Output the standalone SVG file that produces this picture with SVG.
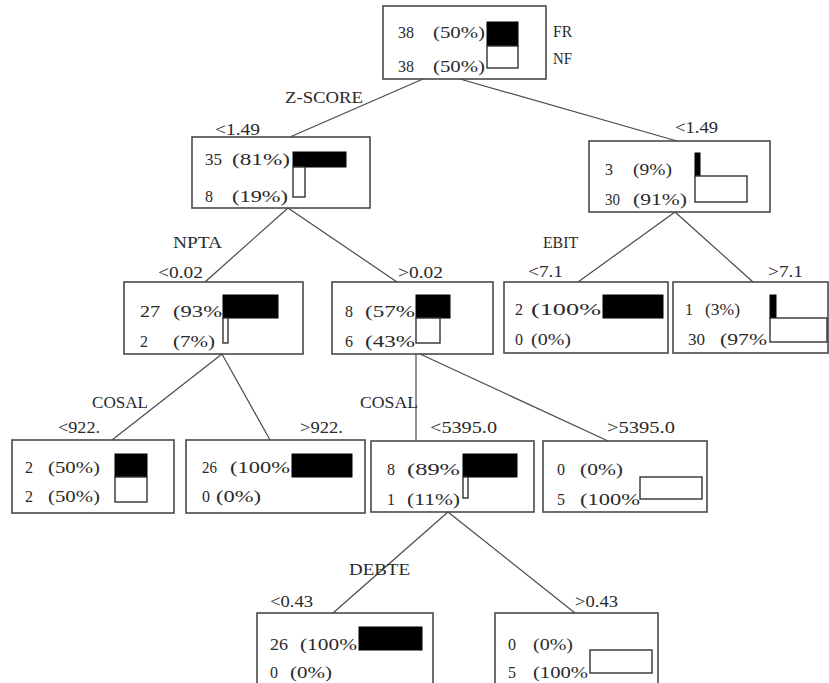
<svg xmlns="http://www.w3.org/2000/svg" width="829" height="683" viewBox="0 0 829 683">
<style>
text{font-family:"Liberation Serif","Times New Roman",serif;font-size:16px;fill:#2a2a2a;}
.box{fill:none;stroke:#4a4a4a;stroke-width:1.6;}
.blk{fill:#000;stroke:#000;stroke-width:1;}
.wht{fill:#fff;stroke:#333;stroke-width:1.4;}
.con line{stroke:#4a4a4a;stroke-width:1.2;}
</style>
<rect x="0" y="0" width="829" height="683" fill="#fff"/>
<g class="con" id="connectors">
<line x1="423" y1="79" x2="290" y2="137"/>
<line x1="460" y1="79" x2="677" y2="141"/>
<line x1="288" y1="208" x2="205" y2="282"/>
<line x1="288" y1="208" x2="397" y2="282"/>
<line x1="675" y1="212" x2="578" y2="282"/>
<line x1="675" y1="212" x2="753" y2="282"/>
<line x1="222" y1="354" x2="112" y2="440"/>
<line x1="222" y1="354" x2="270" y2="440"/>
<line x1="416" y1="354" x2="416" y2="441"/>
<line x1="420" y1="354" x2="608" y2="441"/>
<line x1="448" y1="512" x2="333" y2="613"/>
<line x1="448" y1="512" x2="575" y2="613"/>
</g>
<g id="labels">
<text x="285" y="103" textLength="78" lengthAdjust="spacingAndGlyphs">Z-SCORE</text>
<text x="215" y="135" textLength="45" lengthAdjust="spacingAndGlyphs">&lt;1.49</text>
<text x="675" y="133" textLength="43" lengthAdjust="spacingAndGlyphs">&lt;1.49</text>
<text x="173" y="248" textLength="49" lengthAdjust="spacingAndGlyphs">NPTA</text>
<text x="158" y="278" textLength="45" lengthAdjust="spacingAndGlyphs">&lt;0.02</text>
<text x="398" y="278" textLength="45" lengthAdjust="spacingAndGlyphs">&gt;0.02</text>
<text x="543" y="248" textLength="35" lengthAdjust="spacingAndGlyphs">EBIT</text>
<text x="528" y="277" textLength="35" lengthAdjust="spacingAndGlyphs">&lt;7.1</text>
<text x="768" y="277" textLength="35" lengthAdjust="spacingAndGlyphs">&gt;7.1</text>
<text x="92" y="408" textLength="56" lengthAdjust="spacingAndGlyphs">COSAL</text>
<text x="58" y="433" textLength="42" lengthAdjust="spacingAndGlyphs">&lt;922.</text>
<text x="300" y="433" textLength="43" lengthAdjust="spacingAndGlyphs">&gt;922.</text>
<text x="360" y="408" textLength="58" lengthAdjust="spacingAndGlyphs">COSAL</text>
<text x="430" y="433" textLength="67" lengthAdjust="spacingAndGlyphs">&lt;5395.0</text>
<text x="607" y="433" textLength="68" lengthAdjust="spacingAndGlyphs">&gt;5395.0</text>
<text x="349" y="575" textLength="61" lengthAdjust="spacingAndGlyphs">DEBTE</text>
<text x="270" y="607" textLength="43" lengthAdjust="spacingAndGlyphs">&lt;0.43</text>
<text x="575" y="607" textLength="43" lengthAdjust="spacingAndGlyphs">&gt;0.43</text>
<text x="553" y="37" textLength="19" lengthAdjust="spacingAndGlyphs">FR</text>
<text x="553" y="64" textLength="19" lengthAdjust="spacingAndGlyphs">NF</text>
</g>
<g id="node-root">
<rect class="box" x="383" y="6" width="163" height="73"/>
<text x="398" y="38" textLength="16" lengthAdjust="spacingAndGlyphs">38</text>
<text x="433" y="38" textLength="52" lengthAdjust="spacingAndGlyphs">(50%)</text>
<text x="398" y="72" textLength="16" lengthAdjust="spacingAndGlyphs">38</text>
<text x="433" y="72" textLength="52" lengthAdjust="spacingAndGlyphs">(50%)</text>
<rect class="blk" x="487" y="22" width="31" height="24"/>
<rect class="wht" x="487" y="46" width="31" height="22"/>
</g>
<g id="node-zscore-low">
<rect class="box" x="192" y="137" width="178" height="71"/>
<text x="205" y="165" textLength="17" lengthAdjust="spacingAndGlyphs">35</text>
<text x="232" y="165" textLength="58" lengthAdjust="spacingAndGlyphs">(81%)</text>
<text x="205" y="202">8</text>
<text x="232" y="202" textLength="56" lengthAdjust="spacingAndGlyphs">(19%)</text>
<rect class="blk" x="293" y="152" width="53" height="15"/>
<rect class="wht" x="293" y="167" width="12" height="30"/>
</g>
<g id="node-zscore-high">
<rect class="box" x="589" y="141" width="181" height="71"/>
<text x="605" y="175">3</text>
<text x="633" y="175" textLength="39" lengthAdjust="spacingAndGlyphs">(9%)</text>
<text x="605" y="205" textLength="15" lengthAdjust="spacingAndGlyphs">30</text>
<text x="633" y="205" textLength="54" lengthAdjust="spacingAndGlyphs">(91%)</text>
<rect class="blk" x="695" y="153" width="5" height="23"/>
<rect class="wht" x="695" y="176" width="52" height="26"/>
</g>
<g id="node-npta-low">
<rect class="box" x="124" y="282" width="179" height="72"/>
<text x="140" y="317" textLength="20" lengthAdjust="spacingAndGlyphs">27</text>
<text x="173" y="317" textLength="49" lengthAdjust="spacingAndGlyphs">(93%</text>
<text x="140" y="347">2</text>
<text x="173" y="347" textLength="42" lengthAdjust="spacingAndGlyphs">(7%)</text>
<rect class="blk" x="223" y="295" width="55" height="23"/>
<rect class="wht" x="223" y="318" width="5" height="25"/>
</g>
<g id="node-npta-high">
<rect class="box" x="332" y="282" width="161" height="72"/>
<text x="345" y="317">8</text>
<text x="365" y="317" textLength="50" lengthAdjust="spacingAndGlyphs">(57%</text>
<text x="345" y="347">6</text>
<text x="365" y="347" textLength="50" lengthAdjust="spacingAndGlyphs">(43%</text>
<rect class="blk" x="416" y="295" width="34" height="23"/>
<rect class="wht" x="416" y="318" width="24" height="25"/>
</g>
<g id="node-ebit-low">
<rect class="box" x="504" y="282" width="164" height="71"/>
<text x="515" y="315">2</text>
<text x="531" y="315" textLength="70" lengthAdjust="spacingAndGlyphs">(100%</text>
<text x="515" y="345">0</text>
<text x="531" y="345" textLength="40" lengthAdjust="spacingAndGlyphs">(0%)</text>
<rect class="blk" x="603" y="295" width="60" height="23"/>
</g>
<g id="node-ebit-high">
<rect class="box" x="673" y="282" width="155" height="71"/>
<text x="685" y="315">1</text>
<text x="705" y="315" textLength="35" lengthAdjust="spacingAndGlyphs">(3%)</text>
<text x="688" y="345" textLength="17" lengthAdjust="spacingAndGlyphs">30</text>
<text x="720" y="345" textLength="47" lengthAdjust="spacingAndGlyphs">(97%</text>
<rect class="blk" x="770" y="295" width="6" height="23"/>
<rect class="wht" x="770" y="318" width="57" height="24"/>
</g>
<g id="node-cosal-low">
<rect class="box" x="12" y="440" width="162" height="73"/>
<text x="25" y="473">2</text>
<text x="48" y="473" textLength="52" lengthAdjust="spacingAndGlyphs">(50%)</text>
<text x="25" y="502">2</text>
<text x="48" y="502" textLength="52" lengthAdjust="spacingAndGlyphs">(50%)</text>
<rect class="blk" x="115" y="454" width="32" height="23"/>
<rect class="wht" x="115" y="477" width="32" height="25"/>
</g>
<g id="node-cosal-high">
<rect class="box" x="186" y="440" width="179" height="73"/>
<text x="202" y="473" textLength="15" lengthAdjust="spacingAndGlyphs">26</text>
<text x="230" y="473" textLength="60" lengthAdjust="spacingAndGlyphs">(100%</text>
<text x="202" y="502">0</text>
<text x="216" y="502" textLength="45" lengthAdjust="spacingAndGlyphs">(0%)</text>
<rect class="blk" x="292" y="454" width="60" height="23"/>
</g>
<g id="node-cosal2-low">
<rect class="box" x="371" y="441" width="163" height="71"/>
<text x="387" y="475">8</text>
<text x="407" y="475" textLength="53" lengthAdjust="spacingAndGlyphs">(89%</text>
<text x="387" y="505">1</text>
<text x="407" y="505" textLength="53" lengthAdjust="spacingAndGlyphs">(11%)</text>
<rect class="blk" x="463" y="454" width="54" height="23"/>
<rect class="wht" x="463" y="477" width="5" height="21"/>
</g>
<g id="node-cosal2-high">
<rect class="box" x="543" y="441" width="164" height="71"/>
<text x="557" y="475">0</text>
<text x="580" y="475" textLength="43" lengthAdjust="spacingAndGlyphs">(0%)</text>
<text x="557" y="505">5</text>
<text x="580" y="505" textLength="60" lengthAdjust="spacingAndGlyphs">(100%</text>
<rect class="wht" x="640" y="477" width="62" height="22"/>
</g>
<g id="node-debte-low">
<rect class="box" x="257" y="613" width="176" height="90"/>
<text x="270" y="650" textLength="18" lengthAdjust="spacingAndGlyphs">26</text>
<text x="300" y="650" textLength="57" lengthAdjust="spacingAndGlyphs">(100%</text>
<text x="270" y="678">0</text>
<text x="290" y="678" textLength="42" lengthAdjust="spacingAndGlyphs">(0%)</text>
<rect class="blk" x="359" y="627" width="63" height="23"/>
</g>
<g id="node-debte-high">
<rect class="box" x="495" y="613" width="163" height="90"/>
<text x="508" y="650">0</text>
<text x="533" y="650" textLength="40" lengthAdjust="spacingAndGlyphs">(0%)</text>
<text x="508" y="678">5</text>
<text x="533" y="678" textLength="55" lengthAdjust="spacingAndGlyphs">(100%</text>
<rect class="wht" x="590" y="650" width="62" height="23"/>
</g>
</svg>
